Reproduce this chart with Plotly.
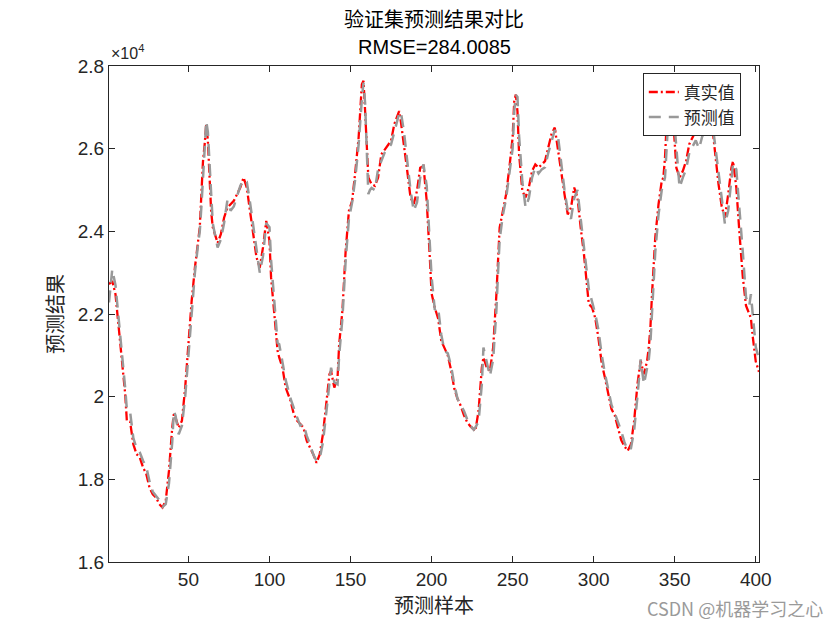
import plotly.graph_objects as go

samples = [1,3,5,7,9,11,12,14,16,18,20,22,24,26,28,30,32,34,36,38,40,41,42,44,46,48,50,52,54,56,57,58,59,60,61,62,63,64,65,67,68,
           70,72,74,76,78,80,82,84,86,88,90,92,94,96,98,100,101,103,105,106,108,110,113,115,117,119,121,123,125,127,129,131,133,
           135,137,138,140,142,143,145,146,147,149,151,153,155,157,158,159,160,161,162,163,165,167,169,171,173,175,177,179,180,181,183,185,187,189,191,193,195,197,199,
           200,202,204,206,208,210,212,214,216,218,220,222,224,226,227,229,231,232,234,236,238,240,241,242,244,246,248,250,251,252,253,254,256,258,260,262,264,266,268,
           270,272,274,276,278,280,282,284,286,288,290,292,294,296,297,299,301,303,305,307,309,311,313,315,317,319,321,323,325,327,329,331,333,334,335,336,338,
           340,342,343,344,345,346,347,348,349,351,353,355,357,359,361,363,365,367,369,371,373,375,377,379,381,383,385,386,388,390,392,394,396,397,398,400,402]

true_vals = [22720,22800,22480,21670,20870,20060,19420,19400,18850,18610,18530,18290,18130,17800,17640,17560,17400,17320,17480,18210,19250,19580,19500,19250,19420,20220,21270,22320,23120,23850,24090,24900,25700,26100,26600,26190,25300,24500,24100,23850,23720,
             23930,24330,24570,24650,24740,24900,25060,25300,25060,24490,23930,23370,23120,23610,24250,23770,22880,22080,21110,20950,20710,20220,19900,19580,19420,19340,19250,18930,18770,18610,18400,18600,19100,
             19820,20540,20620,20220,20460,21270,22080,22880,23530,24490,24740,25460,26270,27560,27640,26910,25940,25300,25220,25140,25100,25300,25860,25980,26070,26190,26590,26830,26910,26670,26110,25460,24820,24660,24980,25540,25580,24740,23300,
             22500,22150,21900,21350,21190,21000,20650,20200,19950,19780,19550,19380,19280,19200,19170,19660,20700,20950,20710,20620,21190,22480,23280,24090,24490,24900,25540,26270,27150,27310,26900,25860,24980,24820,25060,25460,25620,25540,25620,
             25700,26030,26350,26510,25940,25380,24900,24410,24570,25060,24820,24090,23450,22640,22240,22160,21900,21400,20800,20450,20100,19700,19550,19250,18950,18800,18690,18850,19420,20300,20870,20540,20870,21190,21670,22480,23850,
             24650,25220,25300,25780,26590,27230,27560,27720,26750,25540,25300,25460,25700,26110,26270,26430,26390,26510,26670,26830,26600,25800,25150,24600,24330,24900,25540,25700,25060,23930,22900,22200,22000,21900,21500,20850,20600]

pred_vals = [22280,23080,22700,21900,21000,20200,19700,19640,19000,18750,18650,18450,18300,17950,17700,17600,17500,17330,17400,17900,18900,19650,19550,19090,19300,20000,21000,22100,23000,23700,24000,24600,25400,26000,26670,26400,25700,24800,24200,23800,23610,
             23800,24200,24740,24500,24600,24850,25100,25250,25200,24700,24100,23500,23000,23400,24200,24100,23300,22300,21300,21270,20800,20400,19950,19700,19500,19300,19340,19050,18850,18600,18450,18500,18900,
             19600,20400,20700,20350,20300,21000,21900,22600,23300,24300,24700,25300,26100,27200,27600,27100,26200,24900,25000,25050,25000,25500,25700,25900,26000,26100,26400,26700,26850,26900,26400,25700,25000,24490,24700,25300,25620,25100,23800,
             22900,22100,22160,21500,21100,21050,20750,20300,19950,19800,19650,19450,19300,19200,19250,19400,20300,21190,20800,20500,20900,22100,23000,23800,24400,24800,25400,26000,26900,27300,27250,26300,25200,24570,24800,25300,25550,25400,25500,
             25550,25900,26200,26450,26300,25600,25000,24500,24300,24800,25000,24300,23600,22800,22600,22300,22000,21600,21000,20550,20200,19800,19600,19400,19170,18900,18700,18750,19200,20000,20900,20300,20700,20900,21300,22000,23500,
             24400,25000,25140,25300,26000,26800,27400,27500,27000,26200,25060,25300,25500,25900,26050,26200,26000,26300,26400,26600,26700,26100,25400,24800,24170,24500,25300,25650,25500,24600,23500,22400,22200,22480,22000,21200,20900]

x_ticks = [50, 100, 150, 200, 250, 300, 350, 400]
y_ticks = [16000, 18000, 20000, 22000, 24000, 26000, 28000]
y_tick_labels = ["1.6", "1.8", "2", "2.2", "2.4", "2.6", "2.8"]

title_cn = "验证集预测结果对比"
title_rmse = "RMSE=284.0085"

LAT = "Liberation Sans, Arial, sans-serif"
CJK = "Noto Sans CJK SC, sans-serif"
AX = "#262626"

fig = go.Figure()
fig.add_trace(go.Scatter(x=samples, y=true_vals, mode="lines", name="真实值",
                         line=dict(color="#FF0000", width=2.3, dash="9px,3px,2px,3px")))
fig.add_trace(go.Scatter(x=samples, y=pred_vals, mode="lines", name="预测值",
                         line=dict(color="#999999", width=2.5, dash="12px,8px")))

# plot box at x 109-759, y 66-562 (page body margin removed below)
fig.update_layout(
    width=840, height=630,
    margin=dict(l=109, r=81, t=66, b=68, autoexpand=False),
    paper_bgcolor="white", plot_bgcolor="white",
    showlegend=True,
    legend=dict(x=0.972, y=0.985, xanchor="right", yanchor="top",
                bgcolor="white", bordercolor=AX, borderwidth=1,
                font=dict(family=CJK, size=17, color=AX),
                tracegroupgap=0),
    xaxis=dict(range=[1, 402], tickvals=x_ticks, ticks="inside", ticklen=6,
               showline=True, linecolor=AX, linewidth=1, mirror="allticks",
               showgrid=False, zeroline=False, tickcolor=AX, automargin=False,
               tickfont=dict(family=LAT, size=19, color=AX),
               title=dict(text="预测样本", font=dict(family=CJK, size=20, color=AX), standoff=4)),
    yaxis=dict(range=[16000, 28000], tickvals=y_ticks, ticktext=y_tick_labels, ticks="inside", ticklen=6,
               showline=True, linecolor=AX, linewidth=1, mirror="allticks",
               showgrid=False, zeroline=False, tickcolor=AX, automargin=False,
               tickfont=dict(family=LAT, size=19, color=AX),
               title=dict(text="预测结果", font=dict(family=CJK, size=20, color=AX), standoff=8)),
    annotations=[
        dict(text=title_cn, xref="paper", yref="paper", x=0.5, y=1, yshift=48,
             xanchor="center", yanchor="middle", showarrow=False,
             font=dict(family=CJK, size=20, color="black")),
        dict(text=title_rmse, xref="paper", yref="paper", x=0.5, y=1, yshift=19,
             xanchor="center", yanchor="middle", showarrow=False,
             font=dict(family=LAT, size=20, color="black")),
        dict(text="×10<sup>4</sup>", xref="paper", yref="paper", x=0, y=1, yshift=2,
             xanchor="left", yanchor="bottom", showarrow=False,
             font=dict(family=LAT, size=16, color=AX)),
        dict(text="CSDN @机器学习之心", xref="paper", yref="paper", x=1, y=0, xshift=66, yshift=-46,
             xanchor="right", yanchor="middle", showarrow=False,
             font=dict(family=CJK, size=18, color="#9a9a9a")),
    ],
)

fig.write_html("out.html", config={"displayModeBar": False},
               post_script="document.body.style.margin='0';")
